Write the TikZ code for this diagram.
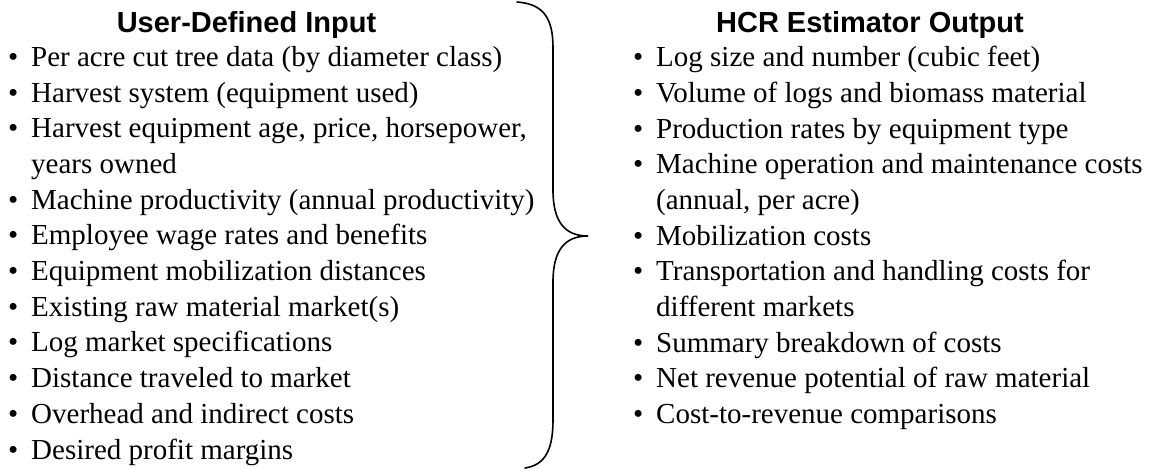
\documentclass[tikz,border=0pt]{standalone}
\usepackage{fontspec}
\setmainfont{Liberation Serif}
\newfontfamily\headfont{Liberation Sans}
\usetikzlibrary{positioning}

\newcommand{\itm}{\makebox[23pt][l]{\textbullet}}
\newcommand{\cont}{\hspace*{23pt}}

\begin{document}
\begin{tikzpicture}[x=1pt,y=-1pt]
  \tikzstyle{head}=[inner sep=0pt, anchor=base, font=\headfont\bfseries\fontsize{29}{35.7}\selectfont]
  \tikzstyle{column}=[inner sep=0pt, anchor=north west, align=left, font=\fontsize{29}{35.7}\selectfont]
  \tikzstyle{brace line}=[line width=1.6pt, line cap=round]

  \useasboundingbox (0,0) rectangle (1160,469);

  \node[head] (inhead) at (246.5,32) {User-Defined Input};
  \node[head] (outhead) at (870,32) {HCR Estimator Output};

  \node[column] (inlist) at (8,46) {\itm Per acre cut tree data (by diameter class)\\
    \itm Harvest system (equipment used)\\
    \itm Harvest equipment age, price, horsepower,\\
    \cont years owned\\
    \itm Machine productivity (annual productivity)\\
    \itm Employee wage rates and benefits\\
    \itm Equipment mobilization distances\\
    \itm Existing raw material market(s)\\
    \itm Log market specifications\\
    \itm Distance traveled to market\\
    \itm Overhead and indirect costs\\
    \itm Desired profit margins};

  \node[column] (outlist) at (633,46) {\itm Log size and number (cubic feet)\\
    \itm Volume of logs and biomass material\\
    \itm Production rates by equipment type\\
    \itm Machine operation and maintenance costs\\
    \cont (annual, per acre)\\
    \itm Mobilization costs\\
    \itm Transportation and handling costs for\\
    \cont different markets\\
    \itm Summary breakdown of costs\\
    \itm Net revenue potential of raw material\\
    \itm Cost-to-revenue comparisons};

  % brace from input to output
  \coordinate (brtop) at (517,2);
  \coordinate (brtip) at (588,236);
  \coordinate (brbot) at (525,468);
  \draw[brace line] (brtop) .. controls (545,4) and (553,20) .. (553,48) -- (553,190)
    .. controls (553,222) and (565,236) .. (brtip)
    .. controls (565,236) and (553,250) .. (553,282) -- (553,420)
    .. controls (553,450) and (545,465) .. (brbot);
\end{tikzpicture}
\end{document}
